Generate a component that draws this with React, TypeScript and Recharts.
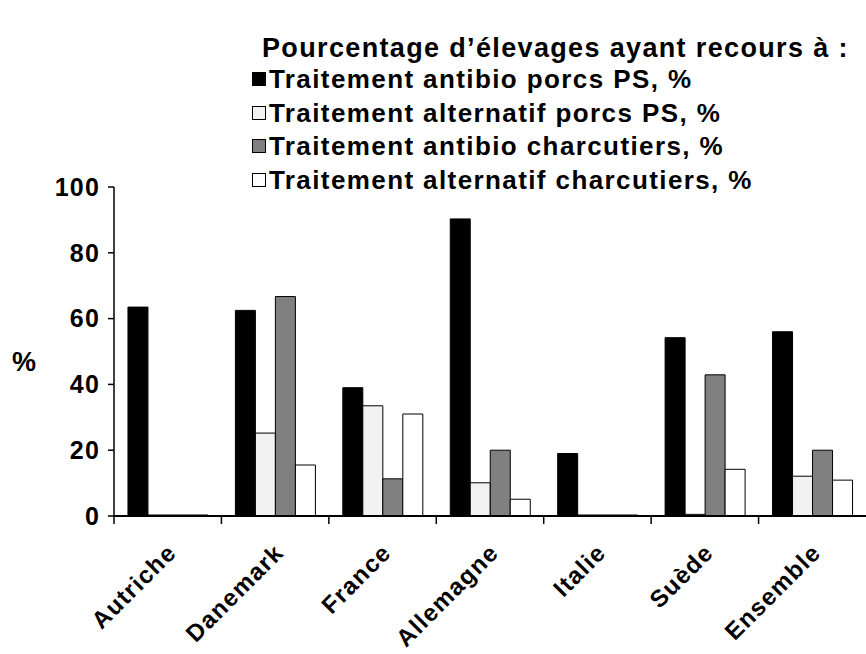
import { BarChart, Bar, XAxis, YAxis, Legend } from "recharts";

const countries = ["Autriche", "Danemark", "France", "Allemagne", "Italie", "Suède", "Ensemble"];
const antibioPS = [63.5, 62.5, 39, 90.3, 19, 54.2, 56];
const alternatifPS = [0.3, 25.2, 33.5, 10.1, 0.3, 0.5, 12.1];
const antibioCharc = [0.3, 66.7, 11.3, 20, 0.3, 42.9, 20];
const alternatifCharc = [0.3, 15.5, 31, 5.1, 0.3, 14.2, 10.9];
const yTicks = [0, 20, 40, 60, 80, 100];

const seriesNames = [
  "Traitement antibio porcs PS, %",
  "Traitement alternatif porcs PS, %",
  "Traitement antibio charcutiers, %",
  "Traitement alternatif charcutiers, %",
];
const seriesColors = ["#000000", "#f2f2f2", "#808080", "#ffffff"];

const data = countries.map((c, i) => ({
  name: c,
  s0: antibioPS[i],
  s1: alternatifPS[i],
  s2: antibioCharc[i],
  s3: alternatifCharc[i],
}));

const FONT = "'Liberation Sans', Arial, sans-serif";
const W = 866;
const H = 654;
const LEFT = 114;
const AXIS_Y = 516;
const STEP = (W - LEFT) / countries.length;

// category label + boundary tick on the left of each category
const XTick = ({ x, payload }: any) => (
  <g>
    <line x1={x - STEP / 2} y1={AXIS_Y} x2={x - STEP / 2} y2={AXIS_Y + 8} stroke="#000" strokeWidth={1.5} />
    <text
      transform={`translate(${x - 2},${AXIS_Y + 26}) rotate(-45)`}
      textAnchor="end"
      dy="0.71em"
      fontFamily={FONT}
      fontWeight="bold"
      fontSize={24}
      letterSpacing={1.3}
      fill="#000"
    >
      {payload.value}
    </text>
  </g>
);

const LegendBox = () => (
  <div style={{ position: "absolute", left: 0, top: 0, fontFamily: FONT, fontWeight: "bold", color: "#000" }}>
    <div
      style={{
        position: "absolute",
        left: 262,
        top: 32,
        fontSize: 27,
        letterSpacing: 1.35,
        lineHeight: "32px",
        whiteSpace: "nowrap",
      }}
    >
      Pourcentage d&rsquo;élevages ayant recours à :
    </div>
    {seriesNames.map((n, i) => (
      <div
        key={n}
        style={{
          position: "absolute",
          left: 252,
          top: 63 + i * 33.7,
          display: "flex",
          alignItems: "center",
          fontSize: 26,
          letterSpacing: 1.4,
          lineHeight: "32px",
          whiteSpace: "nowrap",
        }}
      >
        <span
          style={{
            display: "inline-block",
            width: 12,
            height: 12,
            background: seriesColors[i],
            border: "1px solid #000",
            marginRight: 3,
          }}
        />
        {n}
      </div>
    ))}
  </div>
);

export default function App() {
  return (
    <div style={{ position: "absolute", left: 0, top: 0, width: W, height: H, background: "#fff" }}>
      <BarChart
        width={W}
        height={H}
        data={data}
        margin={{ top: 187, right: 0, bottom: 0, left: 0 }}
        barCategoryGap="13%"
        barGap={0}
      >
        <XAxis
          dataKey="name"
          axisLine={{ stroke: "#000", strokeWidth: 2 }}
          tickLine={false}
          tick={<XTick />}
          interval={0}
          height={H - AXIS_Y}
        />
        <YAxis
          domain={[0, 100]}
          ticks={yTicks}
          width={LEFT}
          axisLine={{ stroke: "#000", strokeWidth: 1.5 }}
          tickLine={{ stroke: "#000", strokeWidth: 1.5 }}
          tickSize={6}
          tickMargin={8}
          tick={{ fill: "#000", fontFamily: FONT, fontWeight: "bold", fontSize: 25, letterSpacing: 1.2 }}
          label={{
            value: "%",
            position: "insideLeft",
            offset: 12,
            fill: "#000",
            fontFamily: FONT,
            fontWeight: "bold",
            fontSize: 27,
            dy: 10,
          }}
        />
        {seriesNames.map((n, i) => (
          <Bar
            key={n}
            dataKey={`s${i}`}
            name={n}
            fill={seriesColors[i]}
            stroke="#000"
            strokeWidth={1}
            isAnimationActive={false}
          />
        ))}
        <Legend content={() => null} />
      </BarChart>
      <LegendBox />
    </div>
  );
}
